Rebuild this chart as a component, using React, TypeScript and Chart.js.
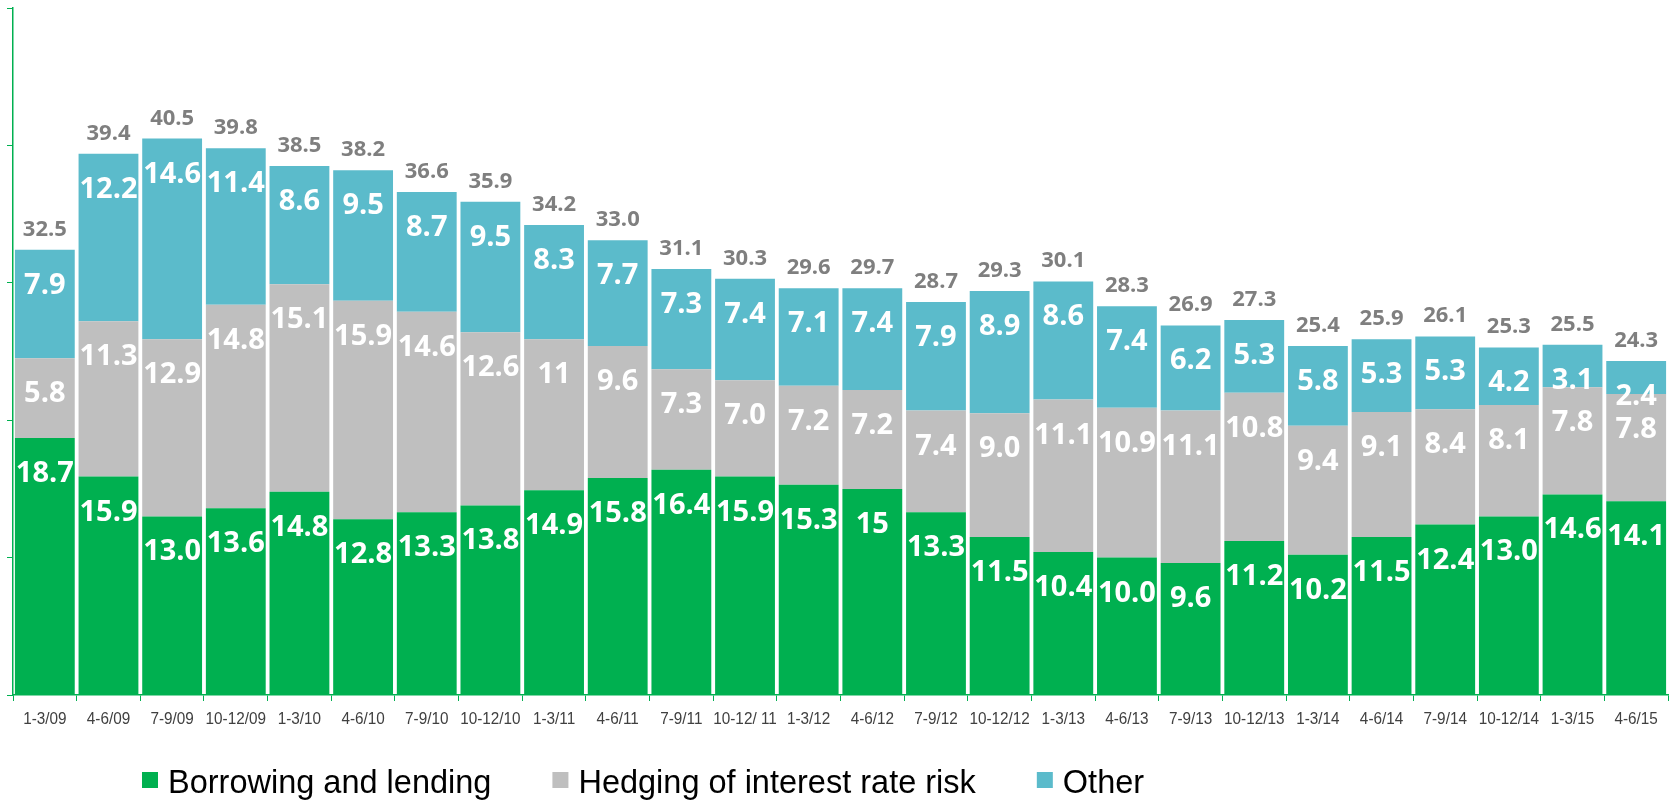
import { useEffect, useRef } from "react";
import { Chart, registerables } from "chart.js";

Chart.register(...registerables);

// Quarterly volumes by purpose (values kept as printed on the bars)
const quarters = [
  "1-3/09", "4-6/09", "7-9/09", "10-12/09", "1-3/10", "4-6/10", "7-9/10", "10-12/10",
  "1-3/11", "4-6/11", "7-9/11", "10-12/ 11", "1-3/12", "4-6/12", "7-9/12", "10-12/12",
  "1-3/13", "4-6/13", "7-9/13", "10-12/13", "1-3/14", "4-6/14", "7-9/14", "10-12/14",
  "1-3/15", "4-6/15",
];

const borrowingLending = [
  "18.7", "15.9", "13.0", "13.6", "14.8", "12.8", "13.3", "13.8", "14.9", "15.8", "16.4", "15.9", "15.3",
  "15", "13.3", "11.5", "10.4", "10.0", "9.6", "11.2", "10.2", "11.5", "12.4", "13.0", "14.6", "14.1",
];

const hedgingRisk = [
  "5.8", "11.3", "12.9", "14.8", "15.1", "15.9", "14.6", "12.6", "11", "9.6", "7.3", "7.0", "7.2",
  "7.2", "7.4", "9.0", "11.1", "10.9", "11.1", "10.8", "9.4", "9.1", "8.4", "8.1", "7.8", "7.8",
];

const otherUses = [
  "7.9", "12.2", "14.6", "11.4", "8.6", "9.5", "8.7", "9.5", "8.3", "7.7", "7.3", "7.4", "7.1",
  "7.4", "7.9", "8.9", "8.6", "7.4", "6.2", "5.3", "5.8", "5.3", "5.3", "4.2", "3.1", "2.4",
];

const quarterTotals = [
  "32.5", "39.4", "40.5", "39.8", "38.5", "38.2", "36.6", "35.9", "34.2", "33.0", "31.1", "30.3", "29.6",
  "29.7", "28.7", "29.3", "30.1", "28.3", "26.9", "27.3", "25.4", "25.9", "26.1", "25.3", "25.5", "24.3",
];

const seriesNames = ["Borrowing and lending", "Hedging of interest rate risk", "Other"];
const seriesValues = [borrowingLending, hedgingRisk, otherUses];
const seriesColors = ["#00B050", "#BFBFBF", "#5BBBCB"];

const yMax = 50;
const yStep = 10;

const AXIS_GREEN = "#00B050";
const LABEL_FONT = '"Open Sans", "Noto Sans", sans-serif';
const SANS_FONT = '"Liberation Sans", Arial, sans-serif';

// White value labels inside each segment, grey totals above each stack
const valueLabels = {
  id: "valueLabels",
  afterDatasetsDraw(chart: any) {
    const ctx = chart.ctx as CanvasRenderingContext2D;
    ctx.save();
    ctx.textAlign = "center";
    ctx.textBaseline = "alphabetic";
    ctx.font = `700 29px ${LABEL_FONT}`;
    ctx.fillStyle = "#FFFFFF";
    seriesValues.forEach((texts, i) => {
      const meta = chart.getDatasetMeta(i);
      meta.data.forEach((bar: any, j: number) => {
        ctx.fillText(texts[j], bar.x, bar.y + 44);
      });
    });
    const topMeta = chart.getDatasetMeta(seriesValues.length - 1);
    ctx.font = `700 22px ${LABEL_FONT}`;
    ctx.fillStyle = "#7F7F7F";
    topMeta.data.forEach((bar: any, j: number) => {
      ctx.fillText(quarterTotals[j], bar.x, bar.y - 14);
    });
    ctx.restore();
  },
};

// Narrow category labels under the x axis
const quarterLabels = {
  id: "quarterLabels",
  afterDraw(chart: any) {
    const ctx = chart.ctx as CanvasRenderingContext2D;
    const xScale = chart.scales.x;
    const baseline = chart.chartArea.bottom + 29;
    ctx.save();
    ctx.font = `400 17px ${SANS_FONT}`;
    ctx.fillStyle = "#404040";
    ctx.textAlign = "center";
    ctx.textBaseline = "alphabetic";
    quarters.forEach((q, i) => {
      const x = xScale.getPixelForValue(i);
      ctx.save();
      ctx.translate(x, baseline);
      ctx.scale(0.9, 1);
      ctx.fillText(q, 0, 0);
      ctx.restore();
    });
    ctx.restore();
  },
};

// Legend row under the axis
const bottomLegend = {
  id: "bottomLegend",
  afterDraw(chart: any) {
    const ctx = chart.ctx as CanvasRenderingContext2D;
    ctx.save();
    ctx.font = `400 32.5px ${SANS_FONT}`;
    ctx.textBaseline = "alphabetic";
    ctx.textAlign = "left";
    const box = 16;
    const boxTop = chart.height - 29;
    const baseline = chart.height - 8;
    let x = 142;
    seriesNames.forEach((name, i) => {
      ctx.fillStyle = seriesColors[i];
      ctx.fillRect(x, boxTop, box, box);
      ctx.fillStyle = "#000000";
      ctx.fillText(name, x + box + 10, baseline);
      x += box + 10 + ctx.measureText(name).width + 61;
    });
    ctx.restore();
  },
};

export default function App() {
  const canvasRef = useRef<HTMLCanvasElement | null>(null);

  useEffect(() => {
    const canvas = canvasRef.current;
    if (!canvas) return;
    const chart = new Chart(canvas, {
      type: "bar",
      data: {
        labels: quarters,
        datasets: seriesValues.map((vals, i) => ({
          label: seriesNames[i],
          data: vals.map((v) => parseFloat(v)),
          backgroundColor: seriesColors[i],
          borderWidth: 0,
          barPercentage: 0.94,
          categoryPercentage: 1,
        })),
      },
      options: {
        responsive: false,
        animation: false,
        devicePixelRatio: 1,
        layout: { padding: { left: 7, right: 11, top: 8, bottom: 100 } },
        plugins: {
          legend: { display: false },
          tooltip: { enabled: false },
          title: { display: false },
        },
        scales: {
          x: {
            stacked: true,
            offset: true,
            border: { display: true, color: AXIS_GREEN, width: 1.5 },
            grid: {
              offset: true,
              drawOnChartArea: false,
              drawTicks: true,
              tickLength: 6,
              color: AXIS_GREEN,
              lineWidth: 1,
            },
            ticks: { display: false, autoSkip: false },
          },
          y: {
            stacked: true,
            min: 0,
            max: yMax,
            border: { display: true, color: AXIS_GREEN, width: 1.5 },
            grid: {
              drawOnChartArea: false,
              drawTicks: true,
              tickLength: 6,
              color: AXIS_GREEN,
              lineWidth: 1,
            },
            ticks: { display: false, stepSize: yStep },
          },
        },
      },
      plugins: [valueLabels, quarterLabels, bottomLegend],
    });
    return () => chart.destroy();
  }, []);

  return (
    <div style={{ position: "fixed", left: 0, top: 0, width: 1679, height: 801, background: "#FFFFFF" }}>
      <canvas ref={canvasRef} width={1679} height={801} style={{ display: "block" }} />
    </div>
  );
}
